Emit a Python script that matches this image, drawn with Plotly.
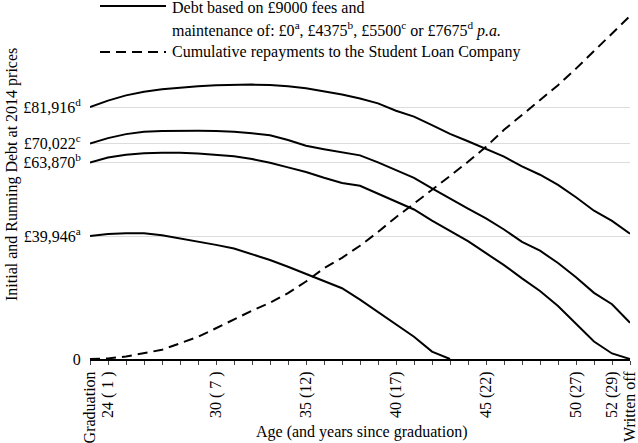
import plotly.graph_objects as go

# ---------------- data ----------------
years = list(range(31))  # years since graduation
years_a = list(range(21))

debt_a = [39946, 40600, 40865, 40865, 40200, 39240, 38200, 37100, 35900, 34100,
          32200, 30000, 27600, 25200, 23000, 19300, 15300, 11050, 7250, 2400, 0]
debt_b = [63870, 65500, 66400, 66900, 67050, 67050, 66800, 66400, 65900, 65000,
          63800, 62300, 60800, 58900, 57200, 56300, 53800, 51200, 48600, 45000,
          41700, 38300, 34400, 30500, 26200, 22100, 17200, 11400, 5700, 1800, 0]
debt_c = [70022, 71800, 73100, 73900, 74150, 74250, 74200, 74100, 73900, 73400,
          72700, 71200, 69300, 68200, 67100, 66200, 63900, 61500, 58900, 55500,
          52100, 48900, 45700, 42100, 38100, 35200, 31200, 26600, 21500, 17800, 11800]
debt_d = [81916, 84000, 85700, 86900, 87700, 88300, 88700, 89000, 89200, 89200,
          89100, 88700, 88000, 87000, 86000, 84700, 83100, 80700, 78800, 76000,
          73200, 70800, 68300, 65800, 62600, 59900, 56600, 52600, 48200, 44900, 40700]
repayments = [0, 200, 800, 1800, 3000, 5100, 7200, 10000, 12900, 15700,
              18300, 21400, 25200, 29500, 32900, 36800, 41300, 46100, 50500, 54900,
              59500, 64100, 69000, 74500, 79300, 84200, 89000, 94400, 100000, 105700, 111500]

x_tick_vals = [0, 1, 7, 12, 17, 22, 27, 29, 30]
x_tick_text = ["Graduation", "24 ( 1 )", "30 ( 7 )", "35 (12)", "40 (17)",
               "45 (22)", "50 (27)", "52 (29)", "Written off"]
y_tick_vals = [0, 39946, 63870, 70022, 81916]
y_tick_text = ["0", "£39,946<sup>a</sup>", "£63,870<sup>b</sup>",
               "£70,022<sup>c</sup>", "£81,916<sup>d</sup>"]

legend_debt_1 = "Debt based on £9000 fees and"
legend_debt_2 = ("maintenance of: £0<sup>a</sup>, £4375<sup>b</sup>, £5500<sup>c</sup> "
                 "or £7675<sup>d</sup> <i>p.a.</i>")
legend_repay = "Cumulative repayments to the Student Loan Company"
x_title = "Age (and years since graduation)"
y_title = "Initial and Running Debt at 2014 prices"

# ---------------- figure ----------------
W, H = 638, 443
ML, MR, MT, MB = 90, 8, 0, 84
PW, PH = W - ML - MR, H - MT - MB
FONT = "Liberation Serif"


def px(xp):
    return (xp - ML) / PW


def py(yp):
    return (H - MB - yp) / PH


fig = go.Figure()
line_style = dict(color="black", width=2)
fig.add_trace(go.Scatter(x=years_a, y=debt_a, mode="lines", line=line_style,
                         showlegend=False, cliponaxis=False))
for series in (debt_b, debt_c, debt_d):
    fig.add_trace(go.Scatter(x=years, y=series, mode="lines", line=line_style,
                             showlegend=False, cliponaxis=False))
fig.add_trace(go.Scatter(x=years, y=repayments, mode="lines", cliponaxis=False,
                         line=dict(color="black", width=2, dash="10px,6px"), showlegend=False))

# legend drawn manually
shapes = [
    dict(type="line", xref="paper", yref="paper", x0=px(100), x1=px(166), y0=py(6), y1=py(6),
         line=dict(color="black", width=2)),
    dict(type="line", xref="paper", yref="paper", x0=px(100), x1=px(166), y0=py(52), y1=py(52),
         line=dict(color="black", width=2, dash="10px,6px")),
]
annotations = [
    dict(text=legend_debt_1, xref="paper", yref="paper", x=px(170), y=py(8),
         xanchor="left", yanchor="middle", showarrow=False),
    dict(text=legend_debt_2, xref="paper", yref="paper", x=px(170), y=py(30),
         xanchor="left", yanchor="middle", showarrow=False),
    dict(text=legend_repay, xref="paper", yref="paper", x=px(170), y=py(52),
         xanchor="left", yanchor="middle", showarrow=False),
    dict(text=y_title, xref="paper", yref="paper", x=px(12), y=py(175),
         xanchor="center", yanchor="middle", textangle=-90, showarrow=False),
    dict(text=x_title, xref="paper", yref="paper", x=px(361), y=py(432),
         xanchor="center", yanchor="middle", showarrow=False),
]

fig.update_layout(
    width=W, height=H,
    margin=dict(l=ML, r=MR, t=MT, b=MB, pad=0, autoexpand=False),
    paper_bgcolor="white", plot_bgcolor="white",
    font=dict(family=FONT, size=16, color="black"),
    shapes=shapes, annotations=annotations,
    showlegend=False,
)
fig.update_xaxes(
    range=[0, 30], tickvals=x_tick_vals, ticktext=x_tick_text, tickangle=-90,
    ticks="outside", ticklen=4, tickcolor="#444", tickwidth=1,
    minor=dict(dtick=1, tick0=0, ticks="outside", ticklen=4, tickcolor="#444", tickwidth=1),
    showline=True, linecolor="black", linewidth=2, showgrid=False, zeroline=False,
    automargin=False, ticklabeloverflow="allow",
)
fig.update_yaxes(
    range=[0, 116700], tickvals=y_tick_vals, ticktext=y_tick_text,
    ticks="outside", ticklen=5, tickcolor="rgba(0,0,0,0)",
    showgrid=True, gridcolor="#dcdcdc", gridwidth=1, zeroline=False, showline=False,
    automargin=False, ticklabeloverflow="allow",
)

fig.write_html("out.html", config={"displayModeBar": False},
               post_script="document.body.style.margin='0';")
